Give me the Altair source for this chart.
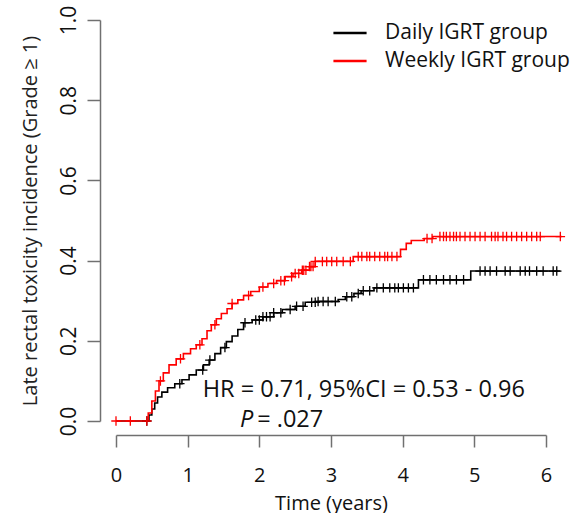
import altair as alt
import numpy as np
import pandas as pd

FONT = "Open Sans"

groups = ["Daily IGRT group", "Weekly IGRT group"]

# Weekly IGRT group (red): event times and cumulative incidence after each step
weekly_t = [0, 0.45, 0.5, 0.55, 0.6, 0.66, 0.74, 0.84, 0.94, 1.04, 1.12, 1.2, 1.27, 1.33,
            1.4, 1.47, 1.55, 1.62, 1.7, 1.78, 1.88, 2.0, 2.12, 2.24, 2.36, 2.47, 2.59, 2.7,
            2.78, 3.31, 3.97, 4.05, 4.12, 4.3, 4.42, 6.22]
weekly_p = [0, 0.02, 0.05, 0.075, 0.10, 0.12, 0.14, 0.155, 0.168, 0.18, 0.19, 0.205, 0.225, 0.24,
            0.255, 0.268, 0.28, 0.293, 0.302, 0.313, 0.323, 0.334, 0.343, 0.35, 0.36, 0.368, 0.376, 0.385,
            0.398, 0.41, 0.428, 0.443, 0.45, 0.455, 0.46, 0.46]
weekly_censor = [0, 0.2, 0.43, 0.62, 0.9, 1.17, 1.38, 1.62, 1.85, 2.05, 2.2, 2.3, 2.35, 2.45,
                 2.5, 2.55, 2.6, 2.62, 2.65, 2.7, 2.72, 2.75,
                 2.78, 2.88, 2.94, 3.01, 3.08, 3.17, 3.27, 3.38, 3.43, 3.50, 3.54, 3.61, 3.68,
                 3.75, 3.79, 3.85, 3.92, 4.34, 4.41,
                 4.52, 4.57, 4.61, 4.66, 4.71, 4.75, 4.80, 4.87, 4.94, 5.01, 5.08, 5.15, 5.24,
                 5.29, 5.33, 5.40, 5.45, 5.52, 5.59, 5.66, 5.73, 5.80, 5.87, 5.92, 6.20]

# Daily IGRT group (black)
daily_t = [0, 0.46, 0.5, 0.54, 0.58, 0.64, 0.72, 0.82, 0.92, 1.02, 1.12, 1.22, 1.3, 1.38,
           1.46, 1.54, 1.62, 1.7, 1.78, 1.9, 2.05, 2.2, 2.32, 2.5, 2.64, 2.8, 3.1, 3.2,
           3.32, 3.42, 3.6, 4.22, 4.95, 6.2]
daily_p = [0, 0.015, 0.03, 0.045, 0.06, 0.072, 0.083, 0.093, 0.103, 0.115, 0.127, 0.14, 0.152, 0.168,
           0.183, 0.198, 0.212, 0.228, 0.245, 0.252, 0.26, 0.27, 0.278, 0.286, 0.296, 0.298, 0.303, 0.31,
           0.318, 0.325, 0.332, 0.352, 0.374, 0.374]
daily_censor = [0.43, 0.89, 1.21, 1.31, 1.52, 1.8, 1.95, 2.0, 2.05, 2.1, 2.15, 2.2, 2.3,
                2.43, 2.52, 2.61, 2.73, 2.78, 2.82, 2.89, 2.96, 3.06, 3.22, 3.29, 3.38, 3.45,
                3.54, 3.64, 3.73, 3.82, 3.89, 3.94, 4.01, 4.08, 4.15, 4.29, 4.38, 4.47, 4.57,
                4.66, 4.75, 4.85, 5.08, 5.15, 5.22, 5.31, 5.43, 5.50, 5.64, 5.71, 5.77, 5.87,
                5.96, 6.10, 6.15]

x_ticks = [0, 1, 2, 3, 4, 5, 6]
y_ticks = [0.0, 0.2, 0.4, 0.6, 0.8, 1.0]

hr_text = "HR = 0.71, 95%CI = 0.53 - 0.96"
p_label = "P"
p_value = "= .027"


def step_value(ts, ps, t):
    i = np.searchsorted(np.array(ts), t, side="right") - 1
    return ps[max(i, 0)]


line_df = pd.concat([
    pd.DataFrame({"t": daily_t, "p": daily_p, "group": groups[0]}),
    pd.DataFrame({"t": weekly_t, "p": weekly_p, "group": groups[1]}),
])
cens_df = pd.concat([
    pd.DataFrame({"t": daily_censor, "p": [step_value(daily_t, daily_p, c) for c in daily_censor],
                  "group": groups[0]}),
    pd.DataFrame({"t": weekly_censor, "p": [step_value(weekly_t, weekly_p, c) for c in weekly_censor],
                  "group": groups[1]}),
])

xscale = alt.Scale(domain=[0, 6], nice=False)
yscale = alt.Scale(domain=[0, 1], nice=False)
color = alt.Color(
    "group:N",
    scale=alt.Scale(domain=groups, range=["#000000", "#ff0000"]),
    legend=alt.Legend(
        title=None, orient="none", legendX=216, legendY=-5, symbolType="stroke",
        symbolSize=1100, symbolStrokeWidth=2.5, labelFontSize=21, labelFont=FONT,
        labelColor="#111111", labelOffset=17, rowPadding=0, padding=0, labelLimit=0,
    ),
)

x_enc = alt.X(
    "t:Q", scale=xscale,
    axis=alt.Axis(values=x_ticks, format="d", title="Time (years)", grid=False, offset=14,
                  tickSize=12, domainColor="#707070", tickColor="#707070",
                  domainWidth=1.5, tickWidth=1.5, labelFontSize=20, labelFont=FONT,
                  labelColor="#111111", labelPadding=18, titleFontSize=20, titleFont=FONT,
                  titleFontWeight="normal", titleColor="#111111", titlePadding=8,
                  labelFlush=False),
)
y_enc = alt.Y(
    "p:Q", scale=yscale,
    axis=alt.Axis(values=y_ticks, format=".1f", title="Late rectal toxicity incidence (Grade \u2265 1)",
                  grid=False, offset=16, tickSize=13, domainColor="#707070", tickColor="#707070",
                  domainWidth=1.5, tickWidth=1.5, labelFontSize=21, labelFont=FONT,
                  labelColor="#111111", labelAngle=-90, labelAlign="center", labelBaseline="bottom",
                  labelPadding=8, titleFontSize=20, titleFont=FONT, titleFontWeight="normal",
                  titleColor="#222222", titlePadding=18, labelFlush=False),
)

lines = alt.Chart(line_df).mark_line(interpolate="step-after", strokeWidth=1.6).encode(
    x=x_enc, y=y_enc, color=color, detail="group:N"
)
cens = alt.Chart(cens_df).mark_point(
    shape="M0,-1L0,1M-1,0L1,0", size=90, strokeWidth=1.3, filled=False, opacity=1
).encode(x="t:Q", y="p:Q", color=alt.Color("group:N", legend=None))

ann_df = pd.DataFrame({"t": [1.21], "p": [0.06], "label": [hr_text]})
ann = alt.Chart(ann_df).mark_text(align="left", baseline="alphabetic", fontSize=23.5, font=FONT,
                                  color="#111111").encode(x="t:Q", y="p:Q", text="label:N")
p_df = pd.DataFrame({"t": [1.73], "p": [-0.015], "label": [p_label]})
p_mark = alt.Chart(p_df).mark_text(align="left", baseline="alphabetic", fontSize=23.5, font=FONT,
                                   fontStyle="italic", color="#111111").encode(
    x="t:Q", y="p:Q", text="label:N")
pv_df = pd.DataFrame({"t": [1.97], "p": [-0.015], "label": [p_value]})
pv_mark = alt.Chart(pv_df).mark_text(align="left", baseline="alphabetic", fontSize=23.5, font=FONT,
                                     color="#111111").encode(x="t:Q", y="p:Q", text="label:N")

chart = alt.layer(lines, cens, ann, p_mark, pv_mark).properties(
    width=430, height=401,
    padding={"left": 19, "top": 5, "right": 0, "bottom": 0},
    background="white",
).configure_view(stroke=None).configure_axis(labelFont=FONT)

chart.save("out.html", embed_options={"renderer": "svg", "actions": False})
